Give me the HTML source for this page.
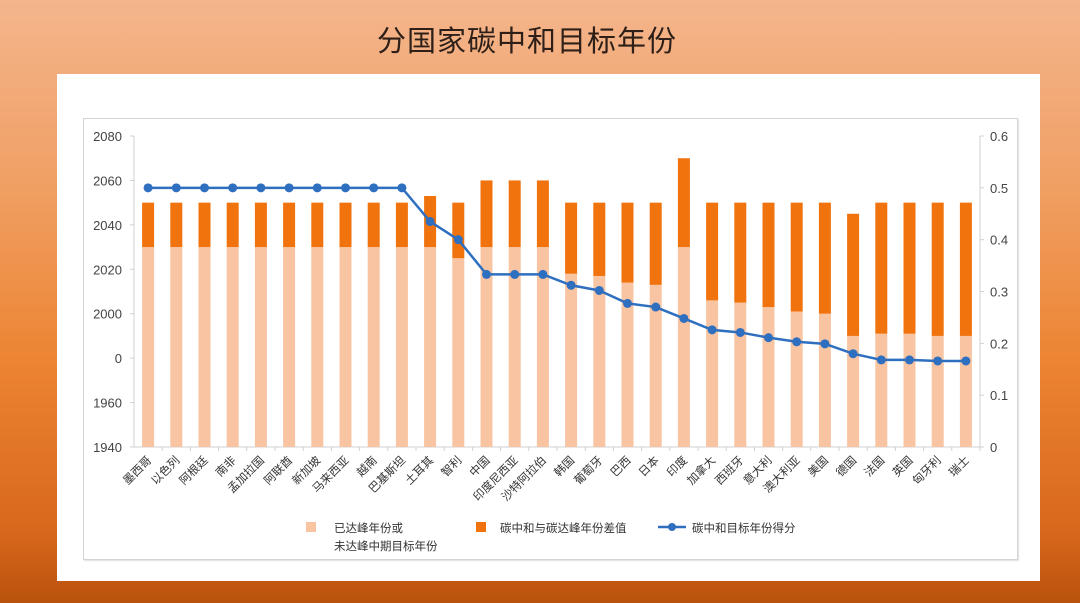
<!DOCTYPE html>
<html><head><meta charset="utf-8">
<style>
html,body{margin:0;padding:0;}
body{width:1080px;height:603px;overflow:hidden;background:linear-gradient(180deg,#f4b58c 0%,#f0a065 30%,#ec8432 60%,#d8681c 88%,#b9520d 100%);font-family:"Liberation Sans","Noto Sans CJK SC",sans-serif;position:relative;}
#title{position:absolute;left:-13px;width:1080px;top:18px;text-align:center;font-size:29px;color:#2e2018;letter-spacing:1px;}
#panel{position:absolute;left:57px;top:74px;width:983px;height:507px;background:#fff;}
#frame{position:absolute;left:83px;top:118px;width:933px;height:440px;border:1px solid #d4d4d4;box-shadow:1px 1px 1px #e0e0e0;}
svg{position:absolute;left:0;top:0;}
</style></head><body>
<div id="title">分国家碳中和目标年份</div>
<div id="panel"></div>
<div id="frame"></div>
<svg width="1080" height="603" id="chart"></svg>
<script>
const categories=["墨西哥","以色列","阿根廷","南非","孟加拉国","阿联酋","新加坡","马来西亚","越南","巴基斯坦","土耳其","智利","中国","印度尼西亚","沙特阿拉伯","韩国","葡萄牙","巴西","日本","印度","加拿大","西班牙","意大利","澳大利亚","美国","德国","法国","英国","匈牙利","瑞士"];
const peakYear=[2030,2030,2030,2030,2030,2030,2030,2030,2030,2030,2030,2025,2030,2030,2030,2018,2017,2014,2013,2030,2006,2005,2003,2001,2000,1990,1991,1991,1990,1990];
const neutralYear=[2050,2050,2050,2050,2050,2050,2050,2050,2050,2050,2053,2050,2060,2060,2060,2050,2050,2050,2050,2070,2050,2050,2050,2050,2050,2045,2050,2050,2050,2050];
const score=[0.5,0.5,0.5,0.5,0.5,0.5,0.5,0.5,0.5,0.5,0.435,0.40,0.333,0.333,0.333,0.312,0.302,0.277,0.27,0.248,0.226,0.221,0.211,0.203,0.199,0.18,0.168,0.168,0.166,0.166];
const leftTicks=[1940,1960,1980,2000,2020,2040,2060,2080];
const leftTickLabels=["1940","1960","0","2000","2020","2040","2060","2080"];
const rightTicks=[0,0.1,0.2,0.3,0.4,0.5,0.6];

const svg=document.getElementById('chart');
const NS='http://www.w3.org/2000/svg';
const X0=134,X1=980,Y0=447,Y1=136;
const yL=v=>Y0-(v-1940)/(2080-1940)*(Y0-Y1);
const yR=v=>Y0-v/0.6*(Y0-Y1);
const step=(X1-X0)/categories.length;
const xC=i=>X0+step*(i+0.5);
function mk(t,a,p){const e=document.createElementNS(NS,t);for(const k in a)e.setAttribute(k,a[k]);(p||svg).appendChild(e);return e;}
const fnt='"Liberation Sans","Noto Sans CJK SC",sans-serif';

let ax=mk('line',{x1:X0,y1:Y1,x2:X0,y2:Y0,stroke:'#d0d0d0'});

ax=mk('line',{x1:X1,y1:Y1,x2:X1,y2:Y0,stroke:'#d0d0d0'});

ax=mk('line',{x1:X0,y1:Y0,x2:X1,y2:Y0,stroke:'#d0d0d0'});

leftTicks.forEach((v,i)=>{
 mk('line',{x1:X0-4,y1:yL(v),x2:X0,y2:yL(v),stroke:'#d0d0d0'});
 const t=mk('text',{x:X0-12,y:yL(v)+5,'text-anchor':'end','font-size':13,fill:'#444','font-family':fnt});
 t.textContent=leftTickLabels[i];
 
});
rightTicks.forEach(v=>{
 mk('line',{x1:X1,y1:yR(v),x2:X1+4,y2:yR(v),stroke:'#d0d0d0'});
 const t=mk('text',{x:X1+10,y:yR(v)+5,'font-size':13,fill:'#444','font-family':fnt});
 t.textContent=String(v);
 
});
const bw=12;
categories.forEach((c,i)=>{
 const x=xC(i);
 mk('line',{x1:X0+step*(i+1),y1:Y0,x2:X0+step*(i+1),y2:Y0+4,stroke:'#d0d0d0'});
 const b1=mk('rect',{x:x-bw/2,y:yL(peakYear[i]),width:bw,height:Y0-yL(peakYear[i]),fill:'#f8c4a2'});
 
 const b2=mk('rect',{x:x-bw/2,y:yL(neutralYear[i]),width:bw,height:yL(peakYear[i])-yL(neutralYear[i]),fill:'#f0730e'});
 
 const t=mk('text',{x:x+4,y:Y0+14,'text-anchor':'end','font-size':11.5,fill:'#333','font-family':fnt,transform:`rotate(-45 ${x+4} ${Y0+14})`});
 t.textContent=c;
 
});
const pts=score.map((s,i)=>xC(i)+','+yR(s)).join(' ');
const ln=mk('polyline',{points:pts,fill:'none',stroke:'#2e6fc0','stroke-width':2.5});

score.forEach((s,i)=>{
 const d=mk('circle',{cx:xC(i),cy:yR(s),r:4.5,fill:'#2e6fc0'});
 
});
let g=mk('rect',{x:306,y:522,width:10,height:10,fill:'#f8c4a2'});

let t=mk('text',{x:334,y:532,'font-size':11.5,fill:'#333','font-family':fnt});t.textContent='已达峰年份或';

t=mk('text',{x:334,y:550,'font-size':11.5,fill:'#333','font-family':fnt});t.textContent='未达峰中期目标年份';

g=mk('rect',{x:476,y:522,width:10,height:10,fill:'#f0730e'});

t=mk('text',{x:500,y:532,'font-size':11.5,fill:'#333','font-family':fnt});t.textContent='碳中和与碳达峰年份差值';

g=mk('line',{x1:658,y1:527,x2:686,y2:527,stroke:'#2e6fc0','stroke-width':2.5});

g=mk('circle',{cx:672,cy:527,r:4,fill:'#2e6fc0'});

t=mk('text',{x:692,y:532,'font-size':11.5,fill:'#333','font-family':fnt});t.textContent='碳中和目标年份得分';

</script>
</body></html>
